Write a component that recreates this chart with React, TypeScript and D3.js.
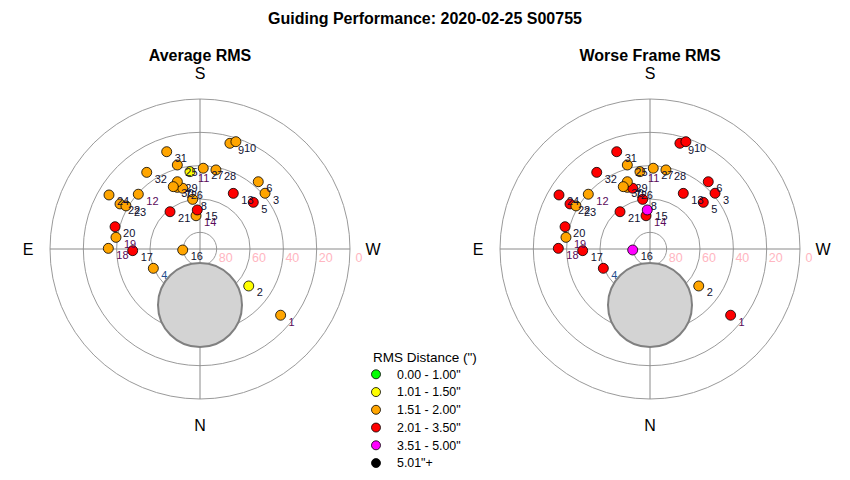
import React from "react";
import * as d3 from "d3";

// ---- data ----
const pointIds = [1, 2, 3, 4, 5, 6, 7, 8, 9, 10, 11, 12, 13, 14, 15, 16, 17, 18, 19, 20, 21, 22, 23, 24, 25, 26, 27, 28, 29, 30, 31, 32];
// azimuth (deg, N=0, E=90, S=180, W=270)
const azimuth = [309.4, 307.2, 229.4, 67.5, 228.8, 220.9, 159.8, 171.6, 195.8, 198.5, 172.6, 131.6, 210.9, 173.2, 176.0, 86.7, 88.6, 90.4, 97.9, 104.7, 141.2, 119.4, 120.2, 120.7, 164.9, 164.1, 182.3, 191.4, 161.4, 156.8, 161.1, 145.2];
// altitude (deg)
const altitude = [27.4, 53.3, 38.6, 59.7, 47.5, 36.6, 50.6, 59.9, 24.1, 22.1, 43.2, 40.5, 51.1, 69.9, 66.5, 79.6, 49.6, 35.0, 39.1, 37.3, 61.3, 34.9, 38.6, 26.5, 37.8, 52.1, 41.5, 41.6, 47.4, 49.3, 28.3, 34.0];
// RMS class index per point (index into rmsBins)
const avgRmsClass = [2, 1, 2, 2, 3, 2, 2, 2, 2, 2, 1, 2, 3, 2, 3, 2, 3, 2, 2, 3, 3, 2, 2, 2, 2, 2, 2, 2, 2, 2, 2, 2];
const worstRmsClass = [3, 2, 3, 3, 3, 3, 2, 3, 3, 3, 2, 2, 3, 3, 4, 4, 3, 3, 2, 3, 3, 3, 2, 3, 2, 3, 2, 2, 2, 2, 3, 3];

const rmsBins = ['0.00 - 1.00"', '1.01 - 1.50"', '1.51 - 2.00"', '2.01 - 3.50"', '3.51 - 5.00"', '5.01"+'];
const binColors = ["#00ff00", "#ffff00", "#ffa500", "#ff0000", "#ff00ff", "#000000"];

const altitudeTicks = [80, 60, 40, 20, 0];
const altitudeRings = [80, 60, 40, 20, 0];

// moon (az, alt, angular radius in deg)
const moonAz = 0;
const moonAlt = 56.4;
const moonRadiusDeg = 25.2;

const chartTitle = "Guiding Performance: 2020-02-25 S00755";
const panelTitles = ["Average RMS", "Worse Frame RMS"];

const purpleLabels = new Set([1, 11, 12, 14, 18, 19]);
const blueLabels = new Set([4]);
const labelColor = (id: number) =>
  purpleLabels.has(id) ? "#5a0a5a" : blueLabels.has(id) ? "#1f4f8f" : "#101030";

const FONT = "'Liberation Sans', Arial, sans-serif";
const R = 150;

const rScale = d3.scaleLinear().domain([90, 0]).range([0, R]);

function project(az: number, alt: number): [number, number] {
  const r = rScale(alt);
  const a = (az * Math.PI) / 180;
  return [-r * Math.sin(a), r * Math.cos(a)];
}

function Polar({ cx, cy, title, classes }: { cx: number; cy: number; title: string; classes: number[] }) {
  const [mx, my] = project(moonAz, moonAlt);
  const moonR = rScale(90 - moonRadiusDeg);
  const pts = pointIds.map((id, i) => {
    const [x, y] = project(azimuth[i], altitude[i]);
    return { id, x, y, c: binColors[classes[i]] };
  });
  return (
    <g transform={`translate(${cx},${cy})`}>
      <text x={0} y={-188} textAnchor="middle" fontFamily={FONT} fontWeight="bold" fontSize={16}>
        {title}
      </text>
      {altitudeRings.map((a) => (
        <circle key={a} r={rScale(a)} fill="none" stroke="#9a9a9a" strokeWidth={1} />
      ))}
      <line x1={-R} x2={R} y1={0} y2={0} stroke="#8a8a8a" strokeWidth={1} />
      <line x1={0} x2={0} y1={-R} y2={R} stroke="#8a8a8a" strokeWidth={1} />
      <circle cx={mx} cy={my} r={moonR} fill="#d3d3d3" stroke="#808080" strokeWidth={2} />
      {altitudeTicks.map((a) => (
        <text key={a} x={rScale(a) + 9} y={13} textAnchor="middle" fill="#ffb6c1" fontFamily={FONT} fontSize={12.5}>
          {a}
        </text>
      ))}
      <text x={0} y={-170} textAnchor="middle" fontFamily={FONT} fontSize={16}>S</text>
      <text x={0} y={182} textAnchor="middle" fontFamily={FONT} fontSize={16}>N</text>
      <text x={-172} y={6} textAnchor="middle" fontFamily={FONT} fontSize={16}>E</text>
      <text x={173} y={6} textAnchor="middle" fontFamily={FONT} fontSize={16}>W</text>
      {pts.map((p) => (
        <circle key={"m" + p.id} cx={p.x} cy={p.y} r={5} fill={p.c} stroke="#000" strokeWidth={0.8} />
      ))}
      {pts.map((p) => (
        <text key={"t" + p.id} x={p.x + 8} y={p.y + 10.5} fill={labelColor(p.id)} fontFamily={FONT} fontSize={11}>
          {p.id}
        </text>
      ))}
    </g>
  );
}

export default function App() {
  return (
    <svg width={850} height={480} style={{ position: "absolute", left: 0, top: 0, background: "#fff" }}>
      <rect width={850} height={480} fill="#fff" />
      <text x={425} y={24} textAnchor="middle" fontFamily={FONT} fontWeight="bold" fontSize={16}>
        {chartTitle}
      </text>
      <Polar cx={200} cy={249} title={panelTitles[0]} classes={avgRmsClass} />
      <Polar cx={650} cy={249} title={panelTitles[1]} classes={worstRmsClass} />
      <g>
        <text x={373} y={362} fontFamily={FONT} fontSize={13.5}>RMS Distance (")</text>
        {rmsBins.map((b, i) => (
          <g key={b} transform={`translate(0,${374.3 + i * 17.75})`}>
            <circle cx={376} cy={0} r={4.5} fill={binColors[i]} stroke="#000" strokeWidth={0.8} />
            <text x={397} y={4.4} fontFamily={FONT} fontSize={12.4}>{b}</text>
          </g>
        ))}
      </g>
    </svg>
  );
}
